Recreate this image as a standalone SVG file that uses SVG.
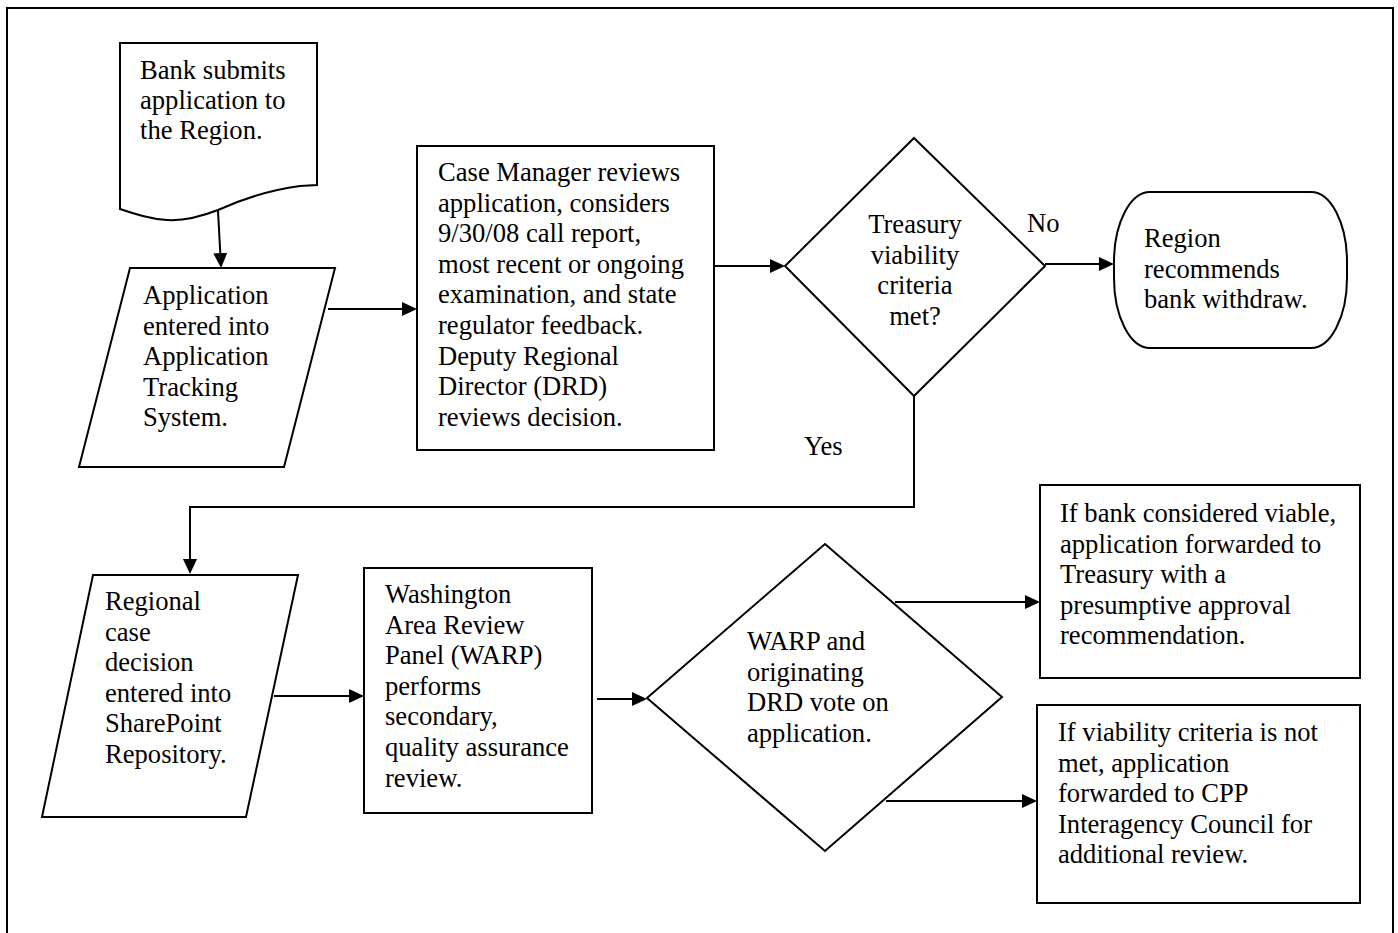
<svg xmlns="http://www.w3.org/2000/svg" width="1398" height="933" viewBox="0 0 1398 933">
<style>
.s{fill:#fff;stroke:#000;stroke-width:2}
.t{font-family:"Liberation Serif","Times New Roman",serif;font-size:26.6px;fill:#000}
.c{fill:none;stroke:#000;stroke-width:2}
</style>
<defs>
<marker id="ah" markerWidth="15" markerHeight="14" refX="13" refY="7" orient="auto" markerUnits="userSpaceOnUse">
<path d="M0,0 L15,7 L0,14 Z" fill="#000"/>
</marker>
</defs>
<rect x="0" y="0" width="1398" height="933" fill="#fff"/>
<rect x="7" y="8" width="1386" height="950" fill="none" stroke="#000" stroke-width="2"/>

<g id="n1">
<path class="s" d="M120,43 H317 V185 L300,186 C270,190 240,200 218,210 C200,217 183,221 167,220 C150,219 135,214 120,209 Z"/>
<text class="t" x="140" y="79">Bank submits</text>
<text class="t" x="140" y="109">application to</text>
<text class="t" x="140" y="139">the Region.</text>
</g>

<g id="n2">
<path class="s" d="M130,268 L335,268 L284,467 L79,467 Z"/>
<text class="t" x="143" y="304">Application</text>
<text class="t" x="143" y="334.6">entered into</text>
<text class="t" x="143" y="365.2">Application</text>
<text class="t" x="143" y="395.8">Tracking</text>
<text class="t" x="143" y="426.4">System.</text>
</g>

<g id="n3">
<rect class="s" x="417" y="146" width="297" height="304"/>
<text class="t" x="438" y="181">Case Manager reviews</text>
<text class="t" x="438" y="211.6">application, considers</text>
<text class="t" x="438" y="242.2">9/30/08 call report,</text>
<text class="t" x="438" y="272.8">most recent or ongoing</text>
<text class="t" x="438" y="303.4">examination, and state</text>
<text class="t" x="438" y="334">regulator feedback.</text>
<text class="t" x="438" y="364.6">Deputy Regional</text>
<text class="t" x="438" y="395.2">Director (DRD)</text>
<text class="t" x="438" y="425.8">reviews decision.</text>
</g>

<g id="n4">
<path class="s" d="M914,138 L1045,266 L914,396 L785,266 Z"/>
<text class="t" x="915" y="233" text-anchor="middle">Treasury</text>
<text class="t" x="915" y="263.6" text-anchor="middle">viability</text>
<text class="t" x="915" y="294.2" text-anchor="middle">criteria</text>
<text class="t" x="915" y="324.8" text-anchor="middle">met?</text>
</g>

<g id="n5">
<rect class="s" x="1114" y="192" width="233" height="156" rx="36" ry="70"/>
<text class="t" x="1144" y="247">Region</text>
<text class="t" x="1144" y="277.6">recommends</text>
<text class="t" x="1144" y="308.2">bank withdraw.</text>
</g>

<g id="n6">
<path class="s" d="M93,575 L298,575 L246,817 L42,817 Z"/>
<text class="t" x="105" y="610">Regional</text>
<text class="t" x="105" y="640.6">case</text>
<text class="t" x="105" y="671.2">decision</text>
<text class="t" x="105" y="701.8">entered into</text>
<text class="t" x="105" y="732.4">SharePoint</text>
<text class="t" x="105" y="763">Repository.</text>
</g>

<g id="n7">
<rect class="s" x="364" y="568" width="228" height="245"/>
<text class="t" x="385" y="603">Washington</text>
<text class="t" x="385" y="633.6">Area Review</text>
<text class="t" x="385" y="664.2">Panel (WARP)</text>
<text class="t" x="385" y="694.8">performs</text>
<text class="t" x="385" y="725.4">secondary,</text>
<text class="t" x="385" y="756">quality assurance</text>
<text class="t" x="385" y="786.6">review.</text>
</g>

<g id="n8">
<path class="s" d="M825,544 L1002,697 L825,851 L647,698 Z"/>
<text class="t" x="747" y="650">WARP and</text>
<text class="t" x="747" y="680.6">originating</text>
<text class="t" x="747" y="711.2">DRD vote on</text>
<text class="t" x="747" y="741.8">application.</text>
</g>

<g id="n9">
<rect class="s" x="1040" y="485" width="320" height="193"/>
<text class="t" x="1060" y="522">If bank considered viable,</text>
<text class="t" x="1060" y="552.6">application forwarded to</text>
<text class="t" x="1060" y="583.2">Treasury with a</text>
<text class="t" x="1060" y="613.8">presumptive approval</text>
<text class="t" x="1060" y="644.4">recommendation.</text>
</g>

<g id="n10">
<rect class="s" x="1037" y="705" width="323" height="198"/>
<text class="t" x="1058" y="741">If viability criteria is not</text>
<text class="t" x="1058" y="771.6">met, application</text>
<text class="t" x="1058" y="802.2">forwarded to CPP</text>
<text class="t" x="1058" y="832.8">Interagency Council for</text>
<text class="t" x="1058" y="863.4">additional review.</text>
</g>

<g id="connectors">
<line class="c" x1="218" y1="211" x2="221" y2="266" marker-end="url(#ah)"/>
<line class="c" x1="328" y1="309" x2="415" y2="309" marker-end="url(#ah)"/>
<line class="c" x1="714" y1="266" x2="783" y2="266" marker-end="url(#ah)"/>
<line class="c" x1="1045" y1="264" x2="1112" y2="264" marker-end="url(#ah)"/>
<text class="t" x="1027" y="232">No</text>
<polyline class="c" points="914,396 914,507 190,507 190,572" marker-end="url(#ah)"/>
<text class="t" x="804" y="455">Yes</text>
<line class="c" x1="274" y1="696" x2="362" y2="696" marker-end="url(#ah)"/>
<line class="c" x1="597" y1="699" x2="645" y2="699" marker-end="url(#ah)"/>
<line class="c" x1="895" y1="602" x2="1038" y2="602" marker-end="url(#ah)"/>
<line class="c" x1="886" y1="801" x2="1035" y2="801" marker-end="url(#ah)"/>
</g>
</svg>
